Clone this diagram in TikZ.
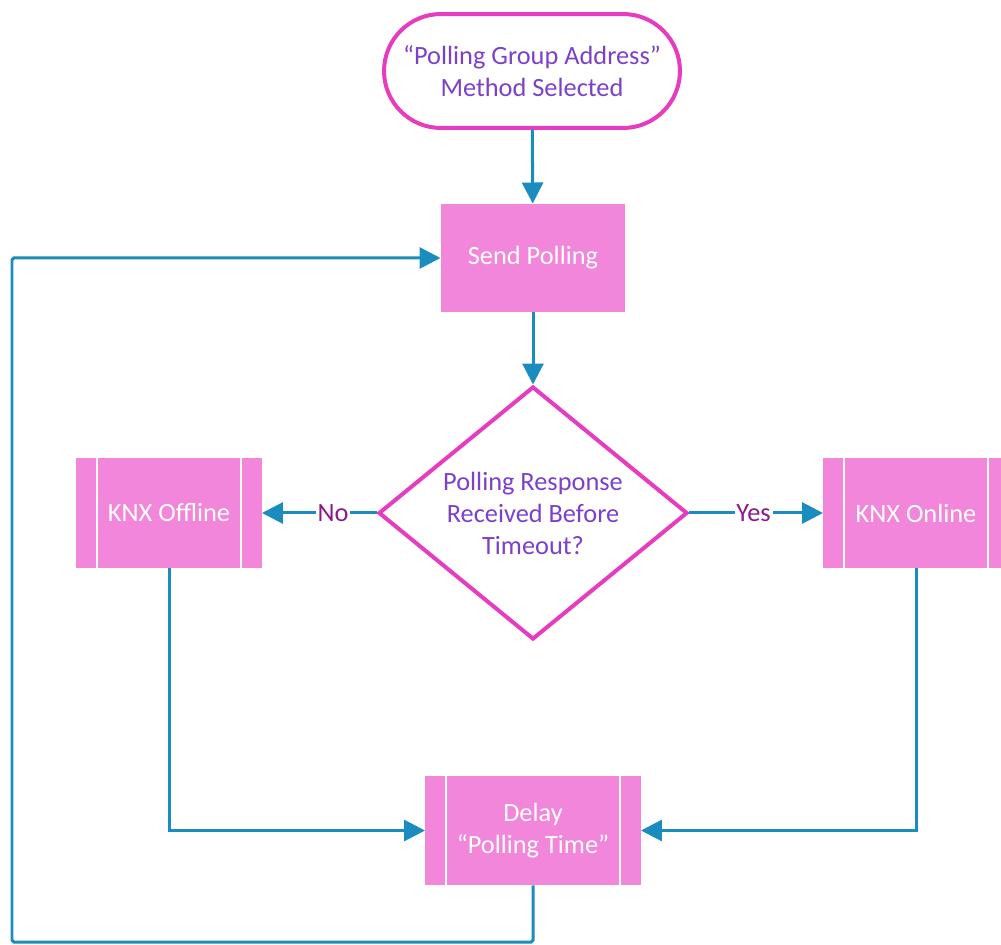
\documentclass[tikz,border=0pt]{standalone}
\usepackage{fontspec}
\setmainfont{Carlito}
\usetikzlibrary{arrows.meta,shapes.geometric}
\definecolor{pinkfill}{HTML}{F186DA}
\definecolor{pinkline}{HTML}{E63CBF}
\definecolor{flowblue}{HTML}{1A8DBE}
\definecolor{violettext}{HTML}{7D40C8}
\definecolor{labeltext}{HTML}{8A1B8C}
\tikzset{
  txt/.style={font=\fontsize{15}{18.2}\selectfont, align=center},
  terminal/.style={txt, draw=pinkline, line width=0.08cm, fill=white, text=violettext,
    rounded corners=1.14cm, minimum width=5.92cm, minimum height=2.28cm, inner sep=0},
  process/.style={txt, fill=pinkfill, text=white, minimum width=3.7cm, minimum height=2.18cm, inner sep=0, outer sep=0},
  predef/.style={txt, fill=pinkfill, text=white, minimum width=#1, minimum height=2.2cm, inner sep=0, outer sep=0,
    path picture={
      \draw[white, line width=0.045cm] ([xshift=0.42cm]path picture bounding box.north west) -- ([xshift=0.42cm]path picture bounding box.south west);
      \draw[white, line width=0.045cm] ([xshift=-0.42cm]path picture bounding box.north east) -- ([xshift=-0.42cm]path picture bounding box.south east);
    }},
  decision/.style={txt, diamond, draw=pinkline, line width=0.08cm, fill=white, text=violettext,
    aspect=1.22, minimum width=6.18cm, minimum height=5.06cm, inner sep=0},
  flow/.style={draw=flowblue, line width=0.06cm, -{Triangle[length=0.42cm,width=0.42cm]}},
  lbl/.style={font=\fontsize{15}{18.2}\selectfont, text=labeltext, fill=white, inner sep=1pt},
}
\begin{document}
\begin{tikzpicture}[x=0.02cm, y=-0.02cm]
\useasboundingbox (0,0) rectangle (1001,945);
\node[terminal] (start) at (532,71) {“Polling Group Address”\\Method Selected};
\node[process] (send) at (533,258) {Send Polling};
\node[decision] (dec) at (533,513) {Polling Response\\Received Before\\Timeout?};
\node[predef=3.72cm] (off) at (169,513) {KNX Offline};
\node[predef=3.72cm] (on) at (916,513) {KNX Online};
\node[predef=4.32cm] (delay) at (533,830.5) {Delay\\“Polling Time”};
\coordinate (lb) at (12,942);
\draw[flow] (start) -- (send);
\draw[flow] (send) -- (dec.north);
\draw[flow] (dec.west) -- node[lbl, pos=0.38] {No} (off.east);
\draw[flow] (dec.east) -- node[lbl, pos=0.48] {Yes} (on.west);
\draw[flow] (off.south) |- (delay.west);
\draw[flow] (on.south) |- (delay.east);
\draw[flow, rounded corners=1pt] (delay.south) |- (lb) |- (send.west);
\end{tikzpicture}
\end{document}
